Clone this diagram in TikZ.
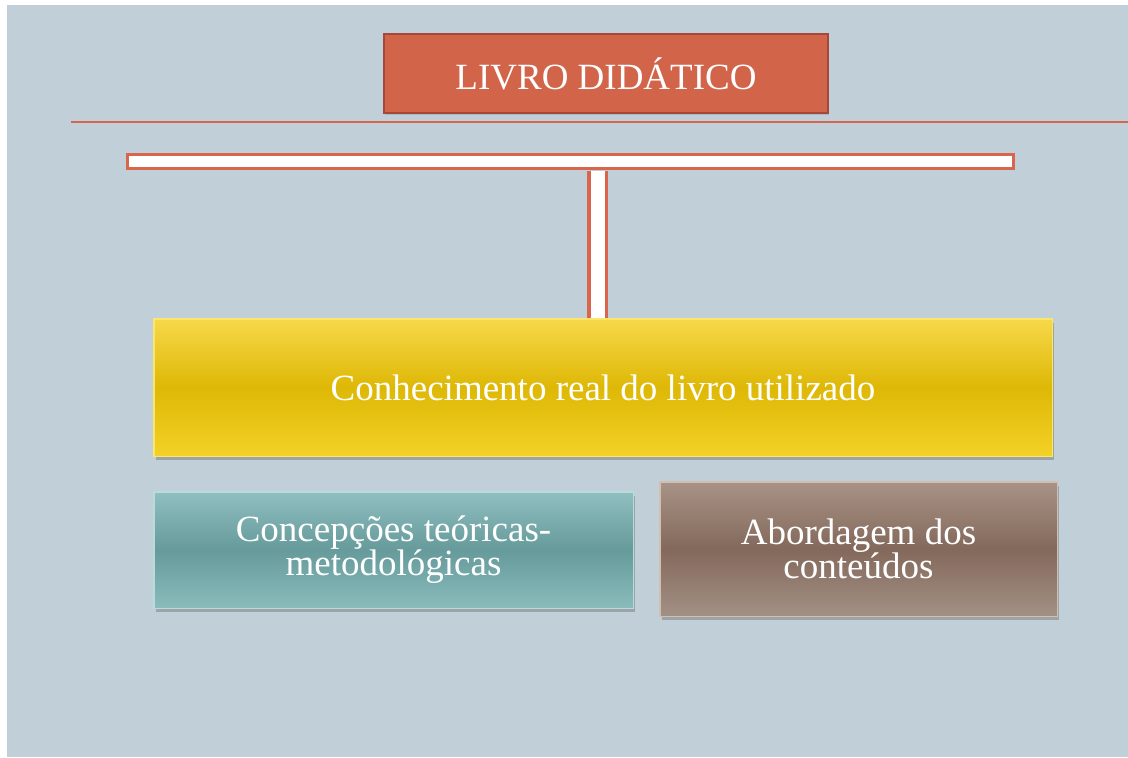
\documentclass[tikz,border=0pt]{standalone}
\usepackage{fontspec}
\setmainfont{Liberation Serif}
\usetikzlibrary{shadows}

\definecolor{slide}{HTML}{C1D0D8}
\definecolor{rust}{HTML}{D2644A}
\definecolor{rustdark}{HTML}{A5483A}
\definecolor{barred}{HTML}{D9664C}
\definecolor{goldtop}{HTML}{F7D84A}
\definecolor{goldmid}{HTML}{DEB806}
\definecolor{goldbot}{HTML}{F3D126}
\definecolor{goldedge}{HTML}{FBE56A}
\definecolor{tealtop}{HTML}{90BFC0}
\definecolor{tealmid}{HTML}{669A9B}
\definecolor{tealbot}{HTML}{8ABCBC}
\definecolor{tealedge}{HTML}{B8DCDC}
\definecolor{mudtop}{HTML}{A89386}
\definecolor{mudmid}{HTML}{83695B}
\definecolor{mudbot}{HTML}{A39085}
\definecolor{mudedge}{HTML}{D2BFB3}

\begin{document}
\begin{tikzpicture}[
    x=1pt, y=-1pt,
    every node/.style={font=\fontsize{37}{34}\selectfont, text=white, align=center, inner sep=0pt},
    box/.style={rectangle, line width=1.5pt,
        drop shadow={shadow xshift=2pt, shadow yshift=-4pt, opacity=0.55}},
    titlebox/.style={rectangle, fill=rust, draw=rustdark, line width=2pt,
        drop shadow={shadow xshift=1pt, shadow yshift=-1.5pt, opacity=0.3}},
    barbox/.style={rectangle, fill=white, draw=barred, line width=3pt},
    stem/.style={draw=barred, line width=3.5pt, double=white, double distance=14pt,
        shorten <=1pt},
    gold/.style={top color=goldtop, bottom color=goldbot, middle color=goldmid, draw=goldedge},
    teal/.style={top color=tealtop, bottom color=tealbot, middle color=tealmid, draw=tealedge},
    mud/.style={top color=mudtop, bottom color=mudbot, middle color=mudmid, draw=mudedge}
]
\useasboundingbox (0,0) rectangle (1128,758);

% Slide background
\fill[white] (0,0) rectangle (1128,758);
\fill[slide] (7,5) rectangle (1128,757);

% Title
\node[titlebox, minimum width=444pt, minimum height=79pt] (livro) at (606,73.5) {LIVRO DIDÁTICO};

% Rule under the title
\draw[barred, line width=2pt] (71,122) -- (1128,122);

% T-bar
\node[barbox, minimum width=886pt, minimum height=14pt] (bar) at (570.5,161.5) {};

% Boxes
\node[box, gold, minimum width=898.5pt, minimum height=137.5pt] (conhec) at (603,387.5)
    {Conhecimento real do livro utilizado};
\node[box, teal, minimum width=479.5pt, minimum height=116.5pt] (concep) at (393.5,550)
    {Concepções teóricas-\\metodológicas};
\node[box, mud, minimum width=397.5pt, minimum height=134.5pt] (abord) at (858.5,549)
    {Abordagem dos\\conteúdos};

% Stem of the T
\coordinate (stemx) at (597.5,0);
\draw[stem] (bar.south -| stemx) -- (conhec.north -| stemx);

\end{tikzpicture}
\end{document}
